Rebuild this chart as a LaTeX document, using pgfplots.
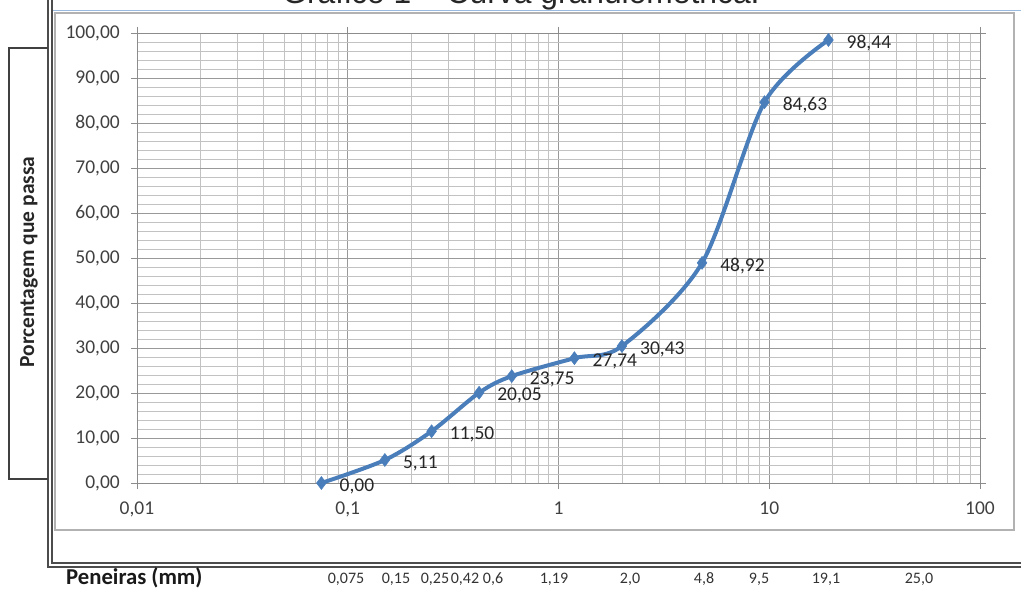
\documentclass[border=0pt]{standalone}
\usepackage{pgfplots}
\pgfplotsset{compat=1.18}
\usepackage{fontspec}
\setmainfont{Carlito}
\newfontfamily\arialf{Liberation Sans}
\definecolor{lineblue}{RGB}{74,126,187}
\definecolor{topblue}{RGB}{155,187,222}

\begin{document}
\begin{tikzpicture}[x=1pt,y=1pt]
\useasboundingbox (0,0) rectangle (1021,590);
% title (partly cut off at the top, as in the reference)
\node[anchor=base, inner sep=0pt, font=\arialf\fontsize{31.8}{36}\selectfont, text=black!85] at (521,586) {Gráfico 1 – Curva granulométrica.};
\draw[topblue, line width=1.5pt] (52,579.5) -- (1021,579.5);
% inner chart frame
\draw[black!30, line width=1.2pt] (55,60) rectangle (1014,577);
% double frame lines
\draw[black!70, line width=1.2pt] (48,590) -- (48,23) -- (1021,23);
\draw[black!70, line width=1.2pt] (52,590) -- (52,27) -- (1021,27);
% y label box
\draw[black!75, line width=1.2pt] (48,542) -- (9,542) -- (9,111) -- (48,111);
\node[rotate=90, inner sep=0pt, font=\bfseries\fontsize{21.5}{24}\selectfont, text=black!85] at (29,328) {Porcentagem que passa};

\begin{axis}[
  at={(137pt,107pt)}, anchor=south west,
  scale only axis, width=843pt, height=450pt,
  xmode=log, xmin=0.01, xmax=100, ymin=0, ymax=100,
  clip=false,
  axis line style={draw=black!45, line width=0.9pt},
  grid=both,
  major grid style={draw=black!40, line width=0.9pt},
  minor grid style={draw=black!24, line width=0.8pt},
  xtick={0.01,0.1,1,10,100},
  xticklabels={{0,01},{0,1},{1},{10},{100}},
  minor xtick={0.02,0.03,0.04,0.05,0.06,0.07,0.08,0.09,0.2,0.3,0.4,0.5,0.6,0.7,0.8,0.9,2,3,4,5,6,7,8,9,20,30,40,50,60,70,80,90},
  ytick={0,10,...,100},
  minor y tick num=4,
  yticklabel={\pgfmathprintnumber[fixed,fixed zerofill,precision=2,use comma]{\tick}},
  /pgf/number format/assume math mode=true,
  tick align=outside, major tick length=6pt, minor tick length=0pt,
  tick style={draw=black!45, line width=0.9pt},
  ticklabel style={font=\fontsize{19.5}{22}\selectfont, text=black!75},
  yticklabel style={inner sep=0pt, xshift=-11pt},
  xticklabel style={inner sep=0pt, yshift=-13pt},
]
\addplot[lineblue, line width=4pt, smooth, mark=diamond*, mark size=6.5pt,
  mark options={solid, line width=0.5pt, fill=lineblue},
  point meta=explicit symbolic,
  nodes near coords={\pgfplotspointmeta},
  every node near coord/.append style={anchor=west, inner sep=0pt, xshift=18pt, yshift=-3pt, font=\fontsize{19.5}{22}\selectfont, text=black!85}]
  table[meta=lab] {
x y lab
0.075 0 0,00
0.15 5.11 5,11
0.25 11.50 11,50
0.42 20.05 20,05
0.6 23.75 23,75
1.19 27.74 27,74
2.0 30.43 30,43
4.8 48.92 48,92
9.5 84.63 84,63
19.1 98.44 98,44
};
\end{axis}

% bottom row
\node[anchor=west, inner sep=0pt, font=\bfseries\fontsize{22.7}{26}\selectfont, text=black!90] at (66,12) {Peneiras (mm)};
\begin{scope}[every node/.style={inner sep=0pt, font=\fontsize{16}{20}\selectfont, text=black!80}]
\node at (346,11) {0,075};
\node at (396,11) {0,15};
\node at (435,11) {0,25};
\node at (465,11) {0,42};
\node at (493,11) {0,6};
\node at (554,11) {1,19};
\node at (630,11) {2,0};
\node at (704,11) {4,8};
\node at (759,11) {9,5};
\node at (826,11) {19,1};
\node at (919,11) {25,0};
\end{scope}
\end{tikzpicture}
\end{document}
